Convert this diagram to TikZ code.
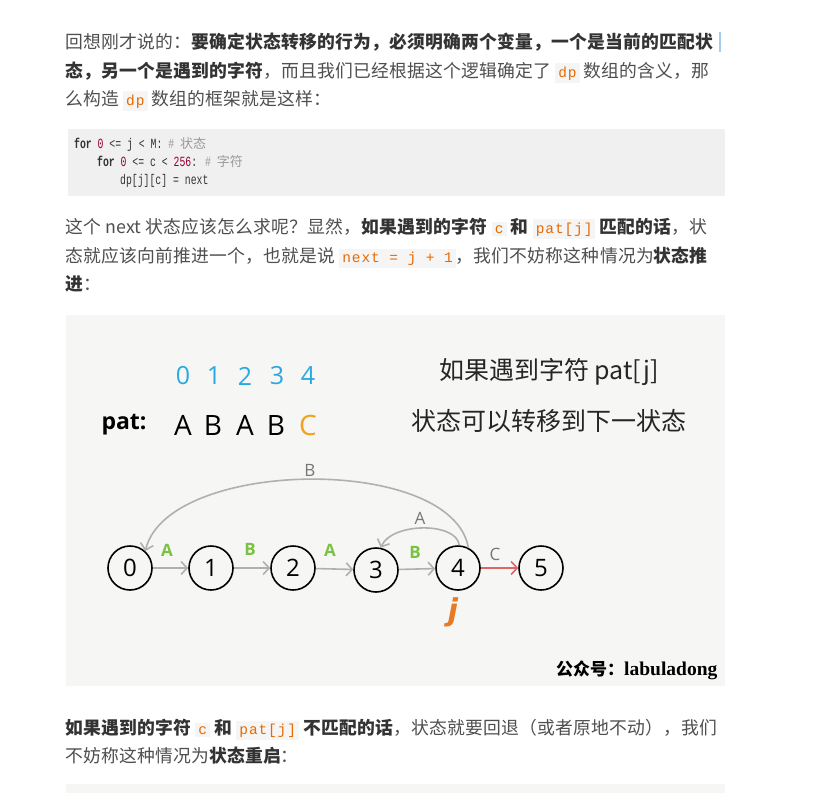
\documentclass[tikz,border=0pt]{standalone}
\usepackage{fontspec}
\setmainfont{Noto Sans CJK SC}[LetterSpace=1.2]
\newfontfamily\cjk{Noto Sans CJK SC}
\newfontfamily\monof[LetterSpace=6]{Liberation Mono}
\newfontfamily\codef[FakeStretch=0.7]{Liberation Mono}
\newfontfamily\dsans{Open Sans}
\newfontfamily\jfont{DejaVu Sans}
\newfontfamily\serifw{Liberation Serif}
\usetikzlibrary{arrows.meta}
\definecolor{txt}{HTML}{4F4F4F}
\definecolor{bld}{HTML}{333333}
\definecolor{codeor}{HTML}{E96900}
\definecolor{codebg}{HTML}{F5F5F5}
\definecolor{blockbg}{HTML}{F0F0F0}
\definecolor{imgbg}{HTML}{F6F6F4}
\definecolor{dblue}{HTML}{29A9E1}
\definecolor{orng}{HTML}{F2A31B}
\definecolor{grn}{HTML}{7BC142}
\definecolor{arrg}{HTML}{B0B0B0}
\definecolor{redar}{HTML}{E06666}
\definecolor{jor}{HTML}{E87A23}
\definecolor{lblg}{HTML}{777777}
\definecolor{cmtg}{HTML}{999999}
\definecolor{numr}{HTML}{990033}
\definecolor{cursorc}{HTML}{A8CCF0}
\newcommand\bd[1]{{\bfseries\color{bld}#1}}
\newcommand\cd[1]{{\setlength\fboxsep{3pt}\colorbox{codebg}{\monof\mdseries\fontsize{14.5}{14.5}\selectfont\color{codeor}#1}}}
\tikzset{
  tl/.style={anchor=base west, inner sep=0pt, text=txt, font=\fontsize{17.8}{20}\selectfont},
  cl/.style={anchor=base west, inner sep=0pt, text=bld, font=\codef\fontsize{14}{15}\selectfont},
  st/.style={circle, draw=black, line width=1.6pt, minimum size=44pt, inner sep=0pt, font=\dsans\fontsize{24}{24}\selectfont},
  garr/.style={draw=arrg, line width=1.6pt, -{Straight Barb[length=6pt,width=13pt,line width=1.6pt]}},
  rarr/.style={draw=redar, line width=1.6pt, -{Straight Barb[length=6pt,width=13pt,line width=1.6pt]}},
  glab/.style={text=grn, font=\dsans\bfseries\fontsize{17}{17}\selectfont},
  alab/.style={text=lblg, font=\dsans\fontsize{17}{17}\selectfont},
  dig/.style={text=dblue, font=\dsans\fontsize{25}{25}\selectfont},
  let/.style={text=black, font=\dsans\fontsize{28}{28}\selectfont},
}
\begin{document}
\begin{tikzpicture}[x=1pt,y=-1pt]
\useasboundingbox (0,0) rectangle (838,793);
\fill[white] (0,0) rectangle (838,793);
% paragraph 1
\node[tl] (l1) at (65,48) {回想刚才说的：\bd{要确定状态转移的行为，必须明确两个变量，一个是当前的匹配状}};
\draw[cursorc, line width=1.2pt] (720,32) -- (720,52);
\node[tl] (l2) at (65,77) {\bd{态，另一个是遇到的字符}，而且我们已经根据这个逻辑确定了 \cd{dp} 数组的含义，那};
\node[tl] (l3) at (65,105) {么构造 \cd{dp} 数组的框架就是这样：};
% code block
\fill[blockbg] (68,129) rectangle (725,196);
\node[cl] (c1) at (74,148) {{\bfseries for} {\color{numr}0} <= j < M: {\color{cmtg}\# {\cjk\fontsize{13}{15}\selectfont 状态}}};
\node[cl] (c2) at (97,166) {{\bfseries for} {\color{numr}0} <= c < {\color{numr}256}: {\color{cmtg}\# {\cjk\fontsize{13}{15}\selectfont 字符}}};
\node[cl] (c3) at (120,184) {dp[j][c] = next};
% paragraph 2
\node[tl] (l4) at (65,233) {这个 next 状态应该怎么求呢？显然，\bd{如果遇到的字符 \cd{c} 和 \cd{pat[j]} 匹配的话}，状};
\node[tl] (l5) at (65,262) {态就应该向前推进一个，也就是说 \cd{next\ =\ j\ +\ 1}，我们不妨称这种情况为\bd{状态推}};
\node[tl] (l6) at (65,290) {\bd{进}：};
% image
\fill[imgbg] (66,315) rectangle (725,686);
\node[dig] (d0) at (183,376) {0};
\node[dig] (d1) at (214,376) {1};
\node[dig] (d2) at (245,376) {2};
\node[dig] (d3) at (277,376) {3};
\node[dig] (d4) at (308,376) {4};
\node[font=\dsans\bfseries\fontsize{23}{23}\selectfont] (pat) at (124,425) {pat:};
\node[let] (p0) at (183,425) {A};
\node[let] (p1) at (213,425) {B};
\node[let] (p2) at (245,425) {A};
\node[let] (p3) at (276,425) {B};
\node[let, text=orng] (p4) at (308,425) {C};
\node[font=\cjk\fontsize{25}{25}\selectfont, text=black!85] (r1) at (549,372) {如果遇到字符 pat[j]};
\node[font=\cjk\fontsize{25}{25}\selectfont, text=black!85] (r2) at (549,421) {状态可以转移到下一状态};
\node[st] (s0) at (130,568) {0};
\node[st] (s1) at (211,568) {1};
\node[st] (s2) at (293,568) {2};
\node[st] (s3) at (376,570) {3};
\node[st] (s4) at (458,568) {4};
\node[st] (s5) at (541,568) {5};
\draw[garr] (s0) -- (s1);
\draw[garr] (s1) -- (s2);
\draw[garr] (s2) -- (s3);
\draw[garr] (s3) -- (s4);
\draw[rarr] (s4) -- (s5);
\draw[garr] (s4.87) .. controls (457,522) and (392,522) .. (s3.78);
\draw[garr] (s4.63) .. controls (452,454) and (168,458) .. (s0.48);
\node[glab] (a1) at (167,550) {A};
\node[glab] (a2) at (250,549) {B};
\node[glab] (a3) at (330,550) {A};
\node[glab] (a4) at (415,552) {B};
\node[alab] (a5) at (495,554) {C};
\node[alab] (a6) at (420,518) {A};
\node[alab] (a7) at (310,470) {B};
\node[text=jor, font=\jfont\bfseries\itshape\fontsize{30}{30}\selectfont] (jj) at (453,612) {j};
\node[anchor=base west, inner sep=0pt] (wm) at (556,675) {{\cjk\bfseries\fontsize{17}{17}\selectfont 公众号：}{\serifw\bfseries\fontsize{19.5}{19.5}\selectfont labuladong}};
% paragraph 3
\node[tl] (l7) at (65,734) {\bd{如果遇到的字符 \cd{c} 和 \cd{pat[j]} 不匹配的话}，状态就要回退（或者原地不动），我们};
\node[tl] (l8) at (65,762) {不妨称这种情况为\bd{状态重启}：};
\fill[imgbg] (66,784) rectangle (725,793);
\end{tikzpicture}
\end{document}
